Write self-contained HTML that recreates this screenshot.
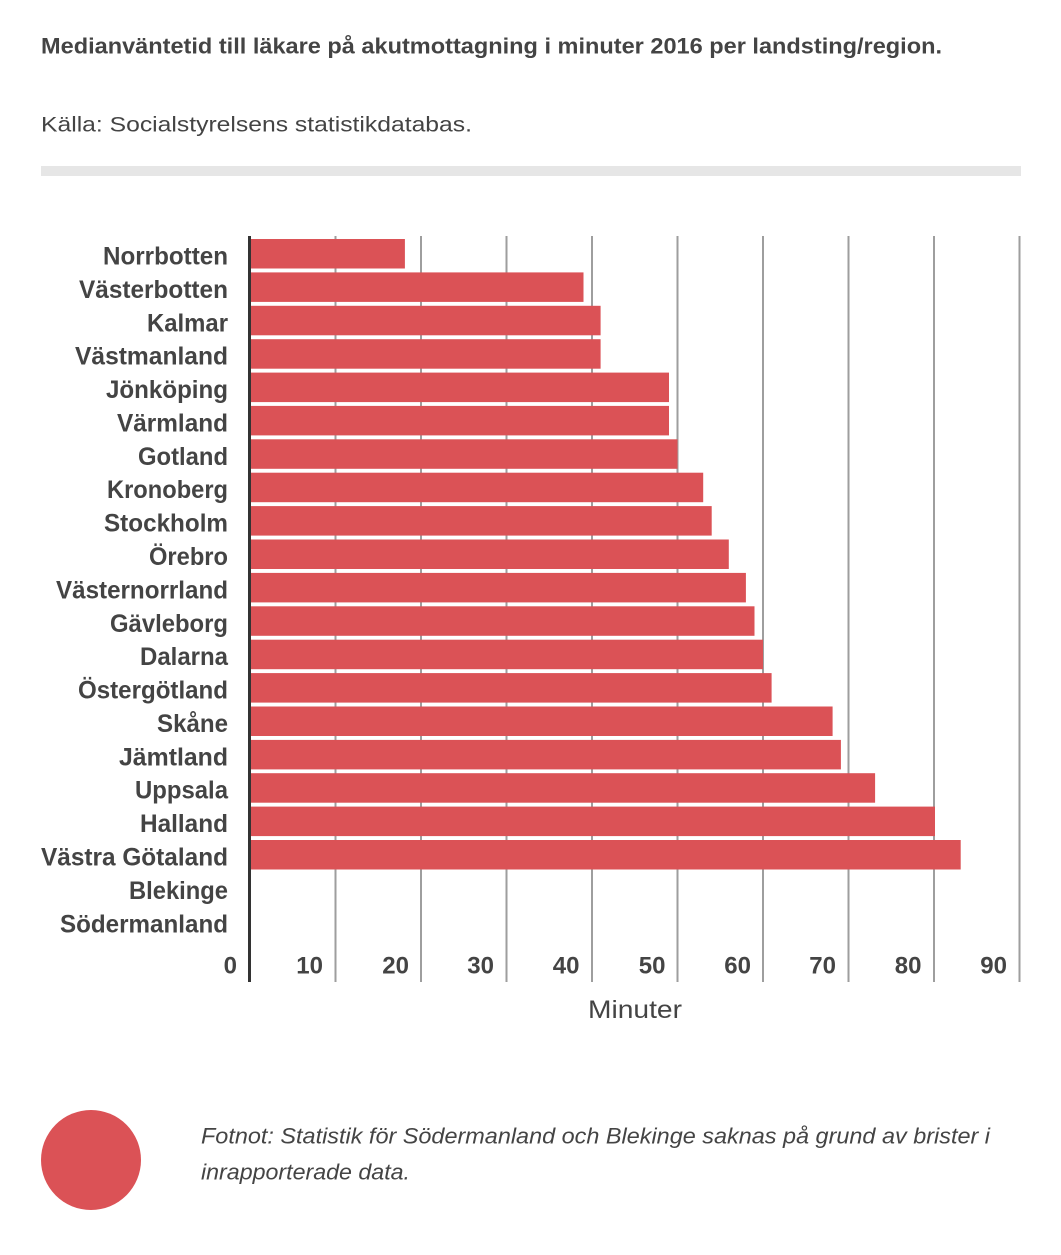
<!DOCTYPE html>
<html>
<head>
<meta charset="utf-8">
<style>
  html, body { margin: 0; padding: 0; background: #ffffff; }
  svg { display: block; }
  text { font-family: "Liberation Sans", "DejaVu Sans", sans-serif; fill: #444444; }
</style>
</head>
<body>
<svg width="1061" height="1255" viewBox="0 0 1061 1255" xmlns="http://www.w3.org/2000/svg">
  <rect x="0" y="0" width="1061" height="1255" fill="#ffffff"/>

  <!-- Header -->
  <text x="41" y="53.5" font-size="22.5" font-weight="bold" textLength="901" lengthAdjust="spacingAndGlyphs">Medianväntetid till läkare på akutmottagning i minuter 2016 per landsting/region.</text>
  <text x="41" y="131.5" font-size="21" textLength="431" lengthAdjust="spacingAndGlyphs">Källa: Socialstyrelsens statistikdatabas.</text>
  <rect x="41" y="166" width="980" height="10" fill="#e6e6e6"/>

  <!-- Gridlines -->
  <g stroke="#9e9e9e" stroke-width="2">
    <line x1="335.5" y1="236" x2="335.5" y2="982"/>
    <line x1="421" y1="236" x2="421" y2="982"/>
    <line x1="506.5" y1="236" x2="506.5" y2="982"/>
    <line x1="592" y1="236" x2="592" y2="982"/>
    <line x1="677.5" y1="236" x2="677.5" y2="982"/>
    <line x1="763" y1="236" x2="763" y2="982"/>
    <line x1="848.5" y1="236" x2="848.5" y2="982"/>
    <line x1="934" y1="236" x2="934" y2="982"/>
    <line x1="1019.5" y1="236" x2="1019.5" y2="982"/>
  </g>

  <!-- Bars: x = 251 .. 250 + v*8.55 ; y = 239 + i*33.39 -->
  <g fill="#db5256">
    <rect x="251" y="239.0" width="153.9" height="29.5"/>
    <rect x="251" y="272.4" width="332.5" height="29.5"/>
    <rect x="251" y="305.8" width="349.6" height="29.5"/>
    <rect x="251" y="339.2" width="349.6" height="29.5"/>
    <rect x="251" y="372.6" width="418.0" height="29.5"/>
    <rect x="251" y="405.9" width="418.0" height="29.5"/>
    <rect x="251" y="439.3" width="426.5" height="29.5"/>
    <rect x="251" y="472.7" width="452.2" height="29.5"/>
    <rect x="251" y="506.1" width="460.7" height="29.5"/>
    <rect x="251" y="539.5" width="477.8" height="29.5"/>
    <rect x="251" y="572.9" width="494.9" height="29.5"/>
    <rect x="251" y="606.3" width="503.5" height="29.5"/>
    <rect x="251" y="639.7" width="512.0" height="29.5"/>
    <rect x="251" y="673.1" width="520.6" height="29.5"/>
    <rect x="251" y="706.5" width="581.6" height="29.5"/>
    <rect x="251" y="739.9" width="589.9" height="29.5"/>
    <rect x="251" y="773.2" width="624.1" height="29.5"/>
    <rect x="251" y="806.6" width="684.0" height="29.5"/>
    <rect x="251" y="840.0" width="709.7" height="29.5"/>
  </g>

  <!-- Axis line -->
  <rect x="248" y="236" width="3" height="746" fill="#333333"/>

  <!-- Category labels -->
  <g font-size="25" font-weight="bold" text-anchor="end">
    <text x="228" y="264.5" textLength="125" lengthAdjust="spacingAndGlyphs">Norrbotten</text>
    <text x="228" y="297.9" textLength="149" lengthAdjust="spacingAndGlyphs">Västerbotten</text>
    <text x="228" y="331.3" textLength="81" lengthAdjust="spacingAndGlyphs">Kalmar</text>
    <text x="228" y="364.7" textLength="153" lengthAdjust="spacingAndGlyphs">Västmanland</text>
    <text x="228" y="398.1" textLength="122" lengthAdjust="spacingAndGlyphs">Jönköping</text>
    <text x="228" y="431.4" textLength="111" lengthAdjust="spacingAndGlyphs">Värmland</text>
    <text x="228" y="464.8" textLength="90" lengthAdjust="spacingAndGlyphs">Gotland</text>
    <text x="228" y="498.2" textLength="121" lengthAdjust="spacingAndGlyphs">Kronoberg</text>
    <text x="228" y="531.6" textLength="124" lengthAdjust="spacingAndGlyphs">Stockholm</text>
    <text x="228" y="565.0" textLength="79" lengthAdjust="spacingAndGlyphs">Örebro</text>
    <text x="228" y="598.4" textLength="172" lengthAdjust="spacingAndGlyphs">Västernorrland</text>
    <text x="228" y="631.8" textLength="118" lengthAdjust="spacingAndGlyphs">Gävleborg</text>
    <text x="228" y="665.2" textLength="88" lengthAdjust="spacingAndGlyphs">Dalarna</text>
    <text x="228" y="698.6" textLength="150" lengthAdjust="spacingAndGlyphs">Östergötland</text>
    <text x="228" y="732.0" textLength="71" lengthAdjust="spacingAndGlyphs">Skåne</text>
    <text x="228" y="765.4" textLength="109" lengthAdjust="spacingAndGlyphs">Jämtland</text>
    <text x="228" y="798.7" textLength="93" lengthAdjust="spacingAndGlyphs">Uppsala</text>
    <text x="228" y="832.1" textLength="88" lengthAdjust="spacingAndGlyphs">Halland</text>
    <text x="228" y="865.5" textLength="187" lengthAdjust="spacingAndGlyphs">Västra Götaland</text>
    <text x="228" y="898.9" textLength="99" lengthAdjust="spacingAndGlyphs">Blekinge</text>
    <text x="228" y="932.3" textLength="168" lengthAdjust="spacingAndGlyphs">Södermanland</text>
  </g>

  <!-- Tick labels -->
  <g font-size="24" font-weight="bold" text-anchor="end">
    <text x="237" y="973.5">0</text>
    <text x="323" y="973.5">10</text>
    <text x="409" y="973.5">20</text>
    <text x="494" y="973.5">30</text>
    <text x="579.5" y="973.5">40</text>
    <text x="665.5" y="973.5">50</text>
    <text x="751" y="973.5">60</text>
    <text x="836" y="973.5">70</text>
    <text x="921.5" y="973.5">80</text>
    <text x="1007" y="973.5">90</text>
  </g>

  <!-- Axis title -->
  <text x="635" y="1018" font-size="25" text-anchor="middle" textLength="94" lengthAdjust="spacingAndGlyphs">Minuter</text>

  <!-- Footer -->
  <circle cx="91" cy="1160" r="50" fill="#db5256"/>
  <text x="201" y="1143.5" font-size="22" font-style="italic" textLength="789" lengthAdjust="spacingAndGlyphs">Fotnot: Statistik för Södermanland och Blekinge saknas på grund av brister i</text>
  <text x="201" y="1179.5" font-size="22" font-style="italic" textLength="209" lengthAdjust="spacingAndGlyphs">inrapporterade data.</text>
</svg>
</body>
</html>
